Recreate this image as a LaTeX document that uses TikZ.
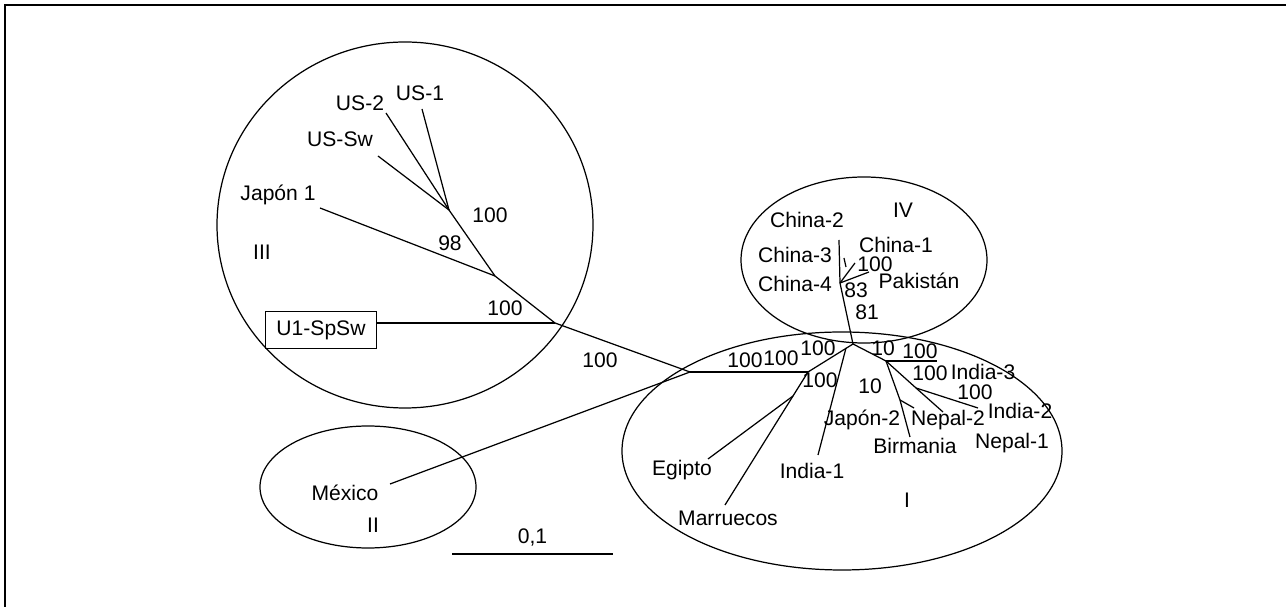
\documentclass[tikz,border=0pt]{standalone}
\usepackage{fontspec}
\setmainfont{Liberation Sans}
\usetikzlibrary{shapes}
\usetikzlibrary{positioning}

\begin{document}
\begin{tikzpicture}[x=0.02cm, y=-0.02cm,
        line width=0.7pt,
        every node/.style = {font=\fontsize{12}{13}\selectfont, inner sep=1pt},
        leaf/.style = {align=center},
        boot/.style = {},
        tag/.style = {draw, inner xsep=6pt, inner ysep=5pt, line width=0.6pt},
        branch/.style = {-}]
    \useasboundingbox (0,0) rectangle (1286,607);
    \draw[line width=0.9pt] (5,607) -- (5,5) -- (1286,5);

    % groups
    \draw (405,225) ellipse [x radius=188, y radius=183];
    \draw (368,487) ellipse [x radius=108, y radius=61];
    \draw (864,260) ellipse [x radius=123, y radius=83];
    \draw (842,451) ellipse [x radius=220, y radius=119];

    % inner branch points
    \coordinate (us)   at (449,210);
    \coordinate (jp)   at (495,276);
    \coordinate (sp)   at (555,323);
    \coordinate (mx)   at (690,372);
    \coordinate (af)   at (808,372);
    \coordinate (eg)   at (793,396);
    \coordinate (root) at (853,344);
    \coordinate (in)   at (846,348);
    \coordinate (cn)   at (840,283);
    \coordinate (np)   at (886,361);
    \coordinate (bm)   at (900,400);
    \coordinate (ne)   at (916,388);

    % leaf ends
    \coordinate (us1e) at (422,109);
    \coordinate (us2e) at (386,113);
    \coordinate (usse) at (378,156);
    \coordinate (jp1e) at (320,208);
    \coordinate (mexe) at (390,484);
    \coordinate (egie) at (708,459);
    \coordinate (mare) at (725,505);
    \coordinate (in1e) at (818,455);
    \coordinate (cn2e) at (839,240);
    \coordinate (cn1e) at (855,263);
    \coordinate (pake) at (869,272);
    \coordinate (cn3a) at (844,258);
    \coordinate (cn3b) at (846,267);
    \coordinate (npre) at (937,361);
    \coordinate (bire) at (910,437);
    \coordinate (jp2e) at (914,408);
    \coordinate (np2e) at (943,412);
    \coordinate (in2e) at (978,408);

    % labels
    \node[leaf] (us1) at (420,93) {US-1};
    \node[leaf] (us2) at (360,103) {US-2};
    \node[leaf] (ussw) at (340,139) {US-Sw};
    \node[leaf] (jap1) at (278,195) {Japón 1};
    \node (g3) at (262,252) {III};
    \node[tag] (u1) at (321,330) {U1-SpSw};
    \node[leaf] (mex) at (345,493) {México};
    \node (g2) at (373,525) {II};
    \node (g4) at (903,210) {IV};
    \node[leaf] (cn2) at (807,220) {China-2};
    \node[leaf] (cn1) at (896,245) {China-1};
    \node[leaf] (cn3) at (795,255) {China-3};
    \node[leaf] (cn4) at (795,284) {China-4};
    \node[leaf] (pak) at (919,281) {Pakistán};
    \node[leaf] (egi) at (682,470) {Egipto};
    \node[leaf] (mar) at (728,518) {Marruecos};
    \node[leaf] (in1) at (812,471) {India-1};
    \node[leaf] (jap2) at (862,420) {Japón-2};
    \node[leaf] (bir) at (915,446) {Birmania};
    \node[leaf] (nep2) at (948,420) {Nepal-2};
    \node[leaf] (in3) at (983,372) {India-3};
    \node[leaf] (in2) at (1020,411) {India-2};
    \node[leaf] (nep1) at (1012,443) {Nepal-1};
    \node (g1) at (907,500) {I};

    % bootstrap values
    \node[boot] at (490,215) {100};
    \node[boot] at (450,243) {98};
    \node[boot] at (505,308) {100};
    \node[boot] at (600,360) {100};
    \node[boot] at (875,264) {100};
    \node[boot] at (856,290) {83};
    \node[boot] at (867,312) {81};
    \node[boot] at (745,360) {100};
    \node[boot] at (781,358) {100};
    \node[boot] at (818,348) {100};
    \node[boot] at (820,380) {100};
    \node[boot] at (883,348) {10};
    \node[boot] at (920,351) {100};
    \node[boot] at (870,386) {10};
    \node[boot] at (930,373) {100};
    \node[boot] at (975,392) {100};

    \path[branch]
        (us) edge (us1e)
        (us) edge (us2e)
        (us) edge (usse)
        (us) edge (jp)
        (jp) edge (jp1e)
        (jp) edge (sp)
        (u1.east |- sp) edge (sp)
        (sp) edge (mx)
        (mx) edge (mexe)
        (mx) edge (af)
        (af) edge (root)
        (af) edge (eg)
        (eg) edge (mare)
        (eg) edge (egie)
        (in) edge (in1e)
        (root) edge (cn)
        (cn) edge (cn2e)
        (cn) edge (cn1e)
        (cn) edge (pake)
        (cn3a) edge (cn3b)
        (root) edge (np)
        (np) edge (npre)
        (np) edge (bm)
        (bm) edge (bire)
        (bm) edge (jp2e)
        (np) edge (ne)
        (ne) edge (np2e)
        (ne) edge (in2e);

    % scale bar
    \coordinate (sb1) at (452,554);
    \coordinate (sb2) at (613,554);
    \draw (sb1) -- (sb2) node[midway, above=3pt] (sc) {0,1};
\end{tikzpicture}
\end{document}
